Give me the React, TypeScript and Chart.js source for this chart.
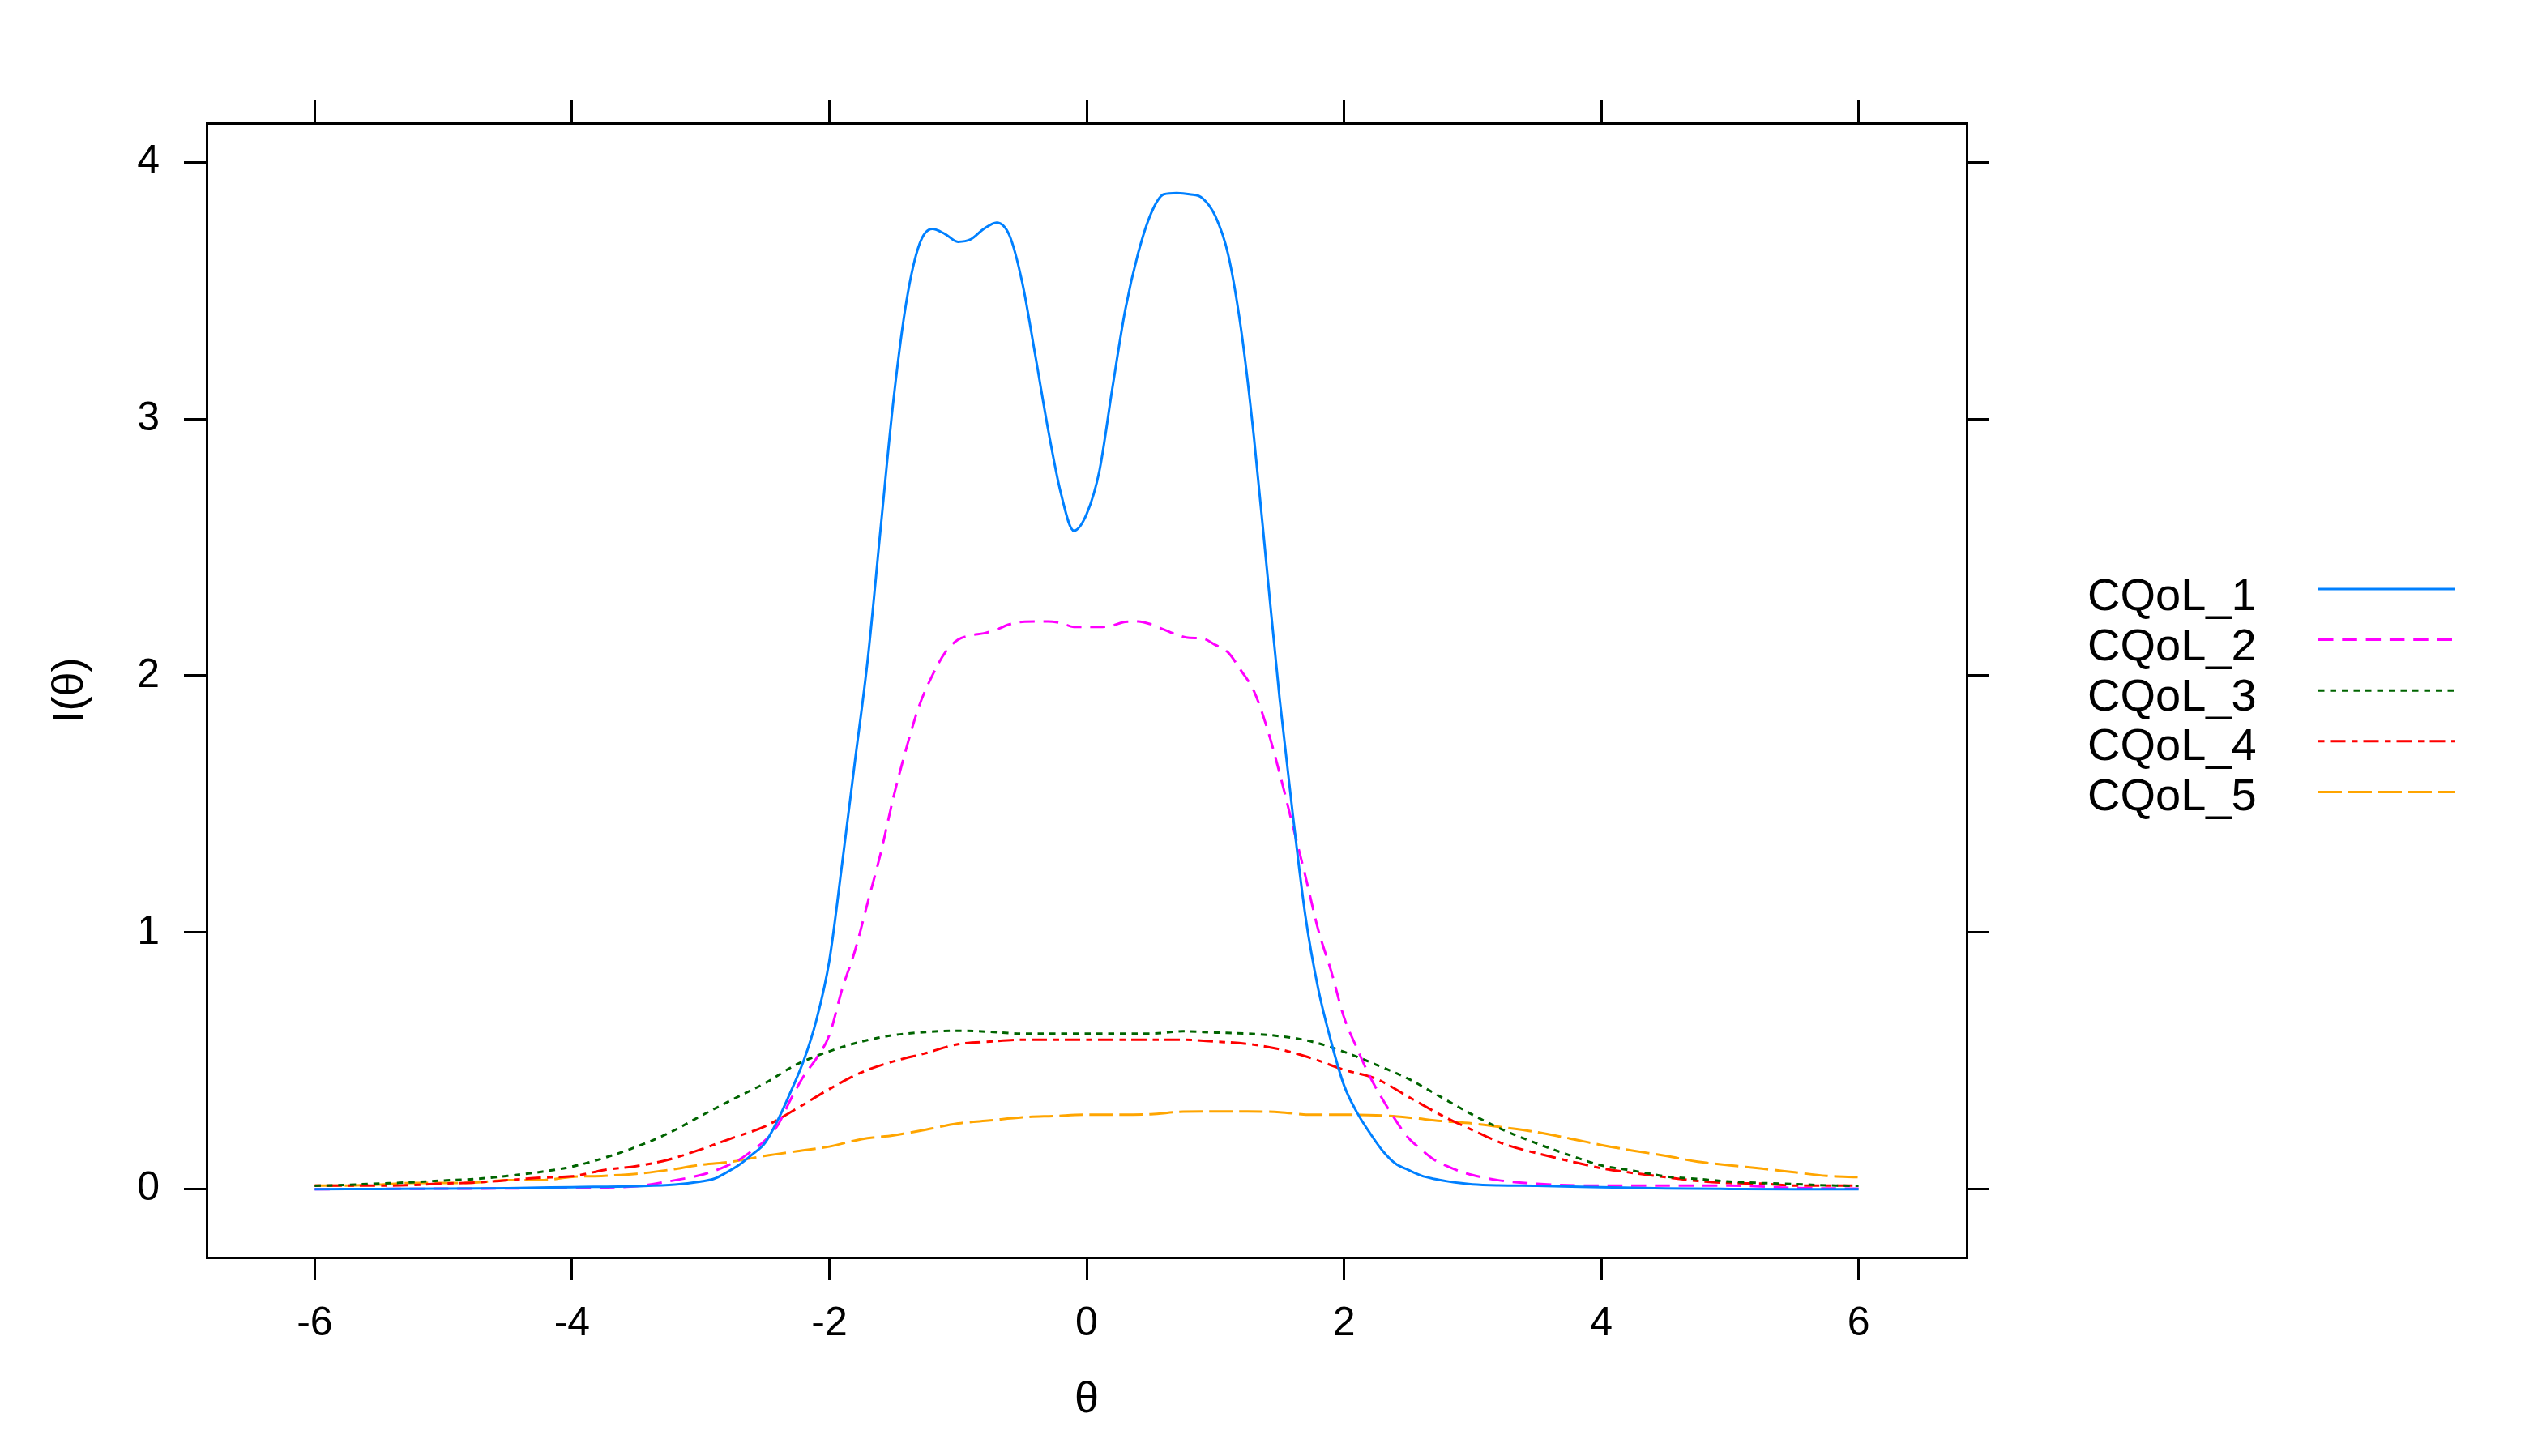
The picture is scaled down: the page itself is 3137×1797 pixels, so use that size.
import React, { useEffect, useRef } from "react";
import { Chart, registerables } from "chart.js";

Chart.register(...registerables);

// ---------------- data ----------------
const seriesNames = ["CQoL_1", "CQoL_2", "CQoL_3", "CQoL_4", "CQoL_5"];
const seriesColors = ["#0080ff", "#ff00ff", "#006400", "#ff0000", "#ffa500"];

const xTickValues = [-6, -4, -2, 0, 2, 4, 6];
const yTickValues = [0, 1, 2, 3, 4];

const thetaFine = [
  -6, -5.5, -5, -4.5, -4, -3.5, -3.2,
  -3.0, -2.9, -2.8, -2.7, -2.6, -2.5, -2.4, -2.3, -2.2, -2.1,
  -2.0, -1.9, -1.8, -1.7, -1.6, -1.5, -1.4, -1.3, -1.2, -1.1,
  -1.0, -0.9, -0.8, -0.7, -0.6, -0.5, -0.4, -0.3, -0.2, -0.1,
  0.0, 0.1, 0.2, 0.3, 0.4, 0.5, 0.6, 0.7, 0.8, 0.9,
  1.0, 1.1, 1.2, 1.3, 1.4, 1.5, 1.6, 1.7, 1.8, 1.9,
  2.0, 2.1, 2.2, 2.3, 2.4, 2.5, 2.6, 2.7, 2.8, 2.9,
  3.0, 3.2, 3.5, 4, 4.5, 5, 5.5, 6,
];

const cqol1 = [
  0.0, 0.001, 0.002, 0.004, 0.008, 0.012, 0.018,
  0.03, 0.04, 0.065, 0.095, 0.135, 0.18, 0.27, 0.38, 0.5, 0.66,
  0.89, 1.27, 1.67, 2.07, 2.58, 3.08, 3.46, 3.68, 3.74, 3.72,
  3.69, 3.7, 3.74, 3.765, 3.715, 3.53, 3.25, 2.96, 2.71, 2.565,
  2.63, 2.8, 3.12, 3.425, 3.645, 3.8, 3.875, 3.88, 3.875, 3.86,
  3.79, 3.64, 3.35, 2.93, 2.42, 1.91, 1.47, 1.065, 0.78, 0.575,
  0.405, 0.3, 0.22, 0.15, 0.1, 0.075, 0.053, 0.04, 0.031, 0.024,
  0.019, 0.015, 0.013, 0.008, 0.003, 0.001, 0.0, 0.0,
];

const cqol2 = [
  0.0, 0.001, 0.002, 0.003, 0.005, 0.012, 0.035,
  0.055, 0.07, 0.09, 0.115, 0.15, 0.19, 0.25, 0.35, 0.44, 0.51,
  0.6, 0.78, 0.93, 1.12, 1.31, 1.53, 1.72, 1.885, 2.0, 2.09,
  2.14, 2.157, 2.165, 2.18, 2.2, 2.21, 2.211, 2.211, 2.205, 2.19,
  2.19, 2.19, 2.195, 2.21, 2.211, 2.2, 2.18, 2.16, 2.147, 2.145,
  2.12, 2.09, 2.02, 1.94, 1.8, 1.62, 1.42, 1.22, 1.01, 0.85,
  0.67, 0.55, 0.44, 0.35, 0.27, 0.2, 0.155, 0.115, 0.09, 0.07,
  0.055, 0.035, 0.021, 0.014, 0.014, 0.014, 0.005, 0.002,
];

const thetaCoarse = [
  -6, -5.75, -5.5, -5.25, -5, -4.75, -4.5, -4.25, -4, -3.75, -3.5, -3.25,
  -3, -2.75, -2.5, -2.25, -2, -1.75, -1.5, -1.25, -1, -0.75, -0.5, -0.25,
  0, 0.25, 0.5, 0.75, 1, 1.25, 1.5, 1.75, 2, 2.25, 2.5, 2.75,
  3, 3.25, 3.5, 3.75, 4, 4.25, 4.5, 4.75, 5, 5.25, 5.5, 5.75, 6,
];

const cqol3 = [
  0.013, 0.017, 0.022, 0.027, 0.034, 0.04, 0.052, 0.067, 0.088, 0.122, 0.165, 0.218,
  0.285, 0.35, 0.413, 0.487, 0.537, 0.575, 0.6, 0.612, 0.617, 0.613, 0.606, 0.606,
  0.606, 0.606, 0.606, 0.615, 0.61, 0.606, 0.596, 0.575, 0.535, 0.485, 0.43, 0.36,
  0.29, 0.228, 0.178, 0.133, 0.093, 0.072, 0.05, 0.04, 0.03, 0.024, 0.02, 0.015, 0.013,
];

const cqol4 = [
  0.014, 0.014, 0.014, 0.016, 0.022, 0.026, 0.035, 0.045, 0.05, 0.075, 0.09, 0.115,
  0.155, 0.2, 0.245, 0.315, 0.39, 0.455, 0.498, 0.53, 0.565, 0.575, 0.582, 0.582,
  0.582, 0.582, 0.582, 0.582, 0.575, 0.566, 0.545, 0.51, 0.465, 0.43, 0.36, 0.29,
  0.23, 0.175, 0.14, 0.11, 0.082, 0.063, 0.047, 0.032, 0.024, 0.022, 0.014, 0.014, 0.014,
];

const cqol5 = [
  0.014, 0.014, 0.018, 0.024, 0.024, 0.026, 0.035, 0.035, 0.048, 0.052, 0.06, 0.075,
  0.095, 0.108, 0.13, 0.148, 0.166, 0.195, 0.21, 0.232, 0.256, 0.268, 0.28, 0.285,
  0.29, 0.29, 0.292, 0.302, 0.303, 0.303, 0.3, 0.29, 0.29, 0.288, 0.279, 0.266,
  0.256, 0.24, 0.222, 0.198, 0.172, 0.15, 0.13, 0.107, 0.093, 0.08, 0.066, 0.052, 0.047,
];

// ---------------- styling ----------------
const W = 3137;
const H = 1797;
const FONT = '"Liberation Sans", Arial, sans-serif';
const dashes: number[][] = [[], [18.5, 10.8], [7.5, 7], [7.5, 7, 19, 7.5], [29, 8]];

const toXY = (xs: number[], ys: number[]) => ys.map((y, i) => ({ x: xs[i], y }));

const legendPlugin = {
  id: "rightLegend",
  afterDraw(chart: any) {
    const ctx = chart.ctx as CanvasRenderingContext2D;
    chart.data.datasets.forEach((ds: any, i: number) => {
      ctx.save();
      ctx.font = `56px ${FONT}`;
      ctx.fillStyle = "#000";
      ctx.textAlign = "left";
      ctx.textBaseline = "alphabetic";
      ctx.fillText(ds.label, 2576, 753 + 61.8 * i);
      const ly = 727 + 62.6 * i;
      ctx.strokeStyle = ds.borderColor;
      ctx.lineWidth = 3;
      ctx.setLineDash(ds.borderDash || []);
      ctx.beginPath();
      ctx.moveTo(2861, ly);
      ctx.lineTo(3030, ly);
      ctx.stroke();
      ctx.restore();
    });
  },
};

const XMIN = -6.84;
const XMAX = 6.84;
const YMIN = -0.266;
const YMAX = 4.152;

const gridOpts = {
  drawOnChartArea: false,
  drawTicks: true,
  tickLength: 28,
  lineWidth: 3,
  tickWidth: 3,
  color: "#000",
  tickColor: "#000",
};
const borderOpts = { display: true, color: "#000", width: 3 };
const tickFont = { family: FONT, size: 50 };

export default function App() {
  const ref = useRef<HTMLCanvasElement>(null);

  useEffect(() => {
    const xsList = [thetaFine, thetaFine, thetaCoarse, thetaCoarse, thetaCoarse];
    const ysList = [cqol1, cqol2, cqol3, cqol4, cqol5];
    const datasets = seriesNames.map((name, i) => ({
      label: name,
      data: toXY(xsList[i], ysList[i]),
      borderColor: seriesColors[i],
      backgroundColor: seriesColors[i],
      borderDash: dashes[i],
      borderWidth: 3,
      pointRadius: 0,
      showLine: true,
      fill: false,
      cubicInterpolationMode: "monotone" as const,
      xAxisID: "x",
      yAxisID: "y",
    }));

    const chart = new Chart(ref.current as HTMLCanvasElement, {
      type: "scatter",
      data: { datasets },
      plugins: [legendPlugin],
      options: {
        animation: false,
        responsive: false,
        devicePixelRatio: 1,
        layout: { padding: { left: 0, top: 124, right: 682, bottom: 0 } },
        plugins: {
          legend: { display: false },
          tooltip: { enabled: false },
        },
        scales: {
          x: {
            type: "linear",
            position: "bottom",
            min: XMIN,
            max: XMAX,
            afterBuildTicks: (s: any) => {
              s.ticks = xTickValues.map((v) => ({ value: v }));
            },
            afterFit: (s: any) => {
              s.height = 245;
            },
            ticks: {
              color: "#000",
              font: tickFont,
              padding: 24,
              maxRotation: 0,
              callback: (v: any) => String(v),
            },
            grid: gridOpts,
            border: borderOpts,
            title: {
              display: true,
              text: "θ",
              color: "#000",
              font: { family: FONT, size: 54 },
              padding: { top: 0, bottom: 36 },
            },
          },
          x2: {
            type: "linear",
            position: "top",
            min: XMIN,
            max: XMAX,
            afterBuildTicks: (s: any) => {
              s.ticks = xTickValues.map((v) => ({ value: v }));
            },
            afterFit: (s: any) => {
              s.height = 28;
            },
            ticks: { display: false },
            grid: gridOpts,
            border: borderOpts,
          },
          y: {
            type: "linear",
            position: "left",
            min: YMIN,
            max: YMAX,
            afterBuildTicks: (s: any) => {
              s.ticks = yTickValues.map((v) => ({ value: v }));
            },
            afterFit: (s: any) => {
              s.width = 255;
            },
            ticks: {
              color: "#000",
              font: tickFont,
              padding: 30,
              callback: (v: any) => String(v),
            },
            grid: gridOpts,
            border: borderOpts,
            title: {
              display: true,
              text: "I(θ)",
              color: "#000",
              font: { family: FONT, size: 54 },
              padding: { top: 55, bottom: 0 },
            },
          },
          y2: {
            type: "linear",
            position: "right",
            min: YMIN,
            max: YMAX,
            afterBuildTicks: (s: any) => {
              s.ticks = yTickValues.map((v) => ({ value: v }));
            },
            afterFit: (s: any) => {
              s.width = 28;
            },
            ticks: { display: false },
            grid: gridOpts,
            border: borderOpts,
          },
        },
      } as any,
    });
    return () => chart.destroy();
  }, []);

  return (
    <div
      style={{
        position: "absolute",
        left: 0,
        top: 0,
        width: W,
        height: H,
        background: "#fff",
      }}
    >
      <canvas
        ref={ref}
        width={W}
        height={H}
        style={{ display: "block", width: W, height: H }}
      />
    </div>
  );
}
